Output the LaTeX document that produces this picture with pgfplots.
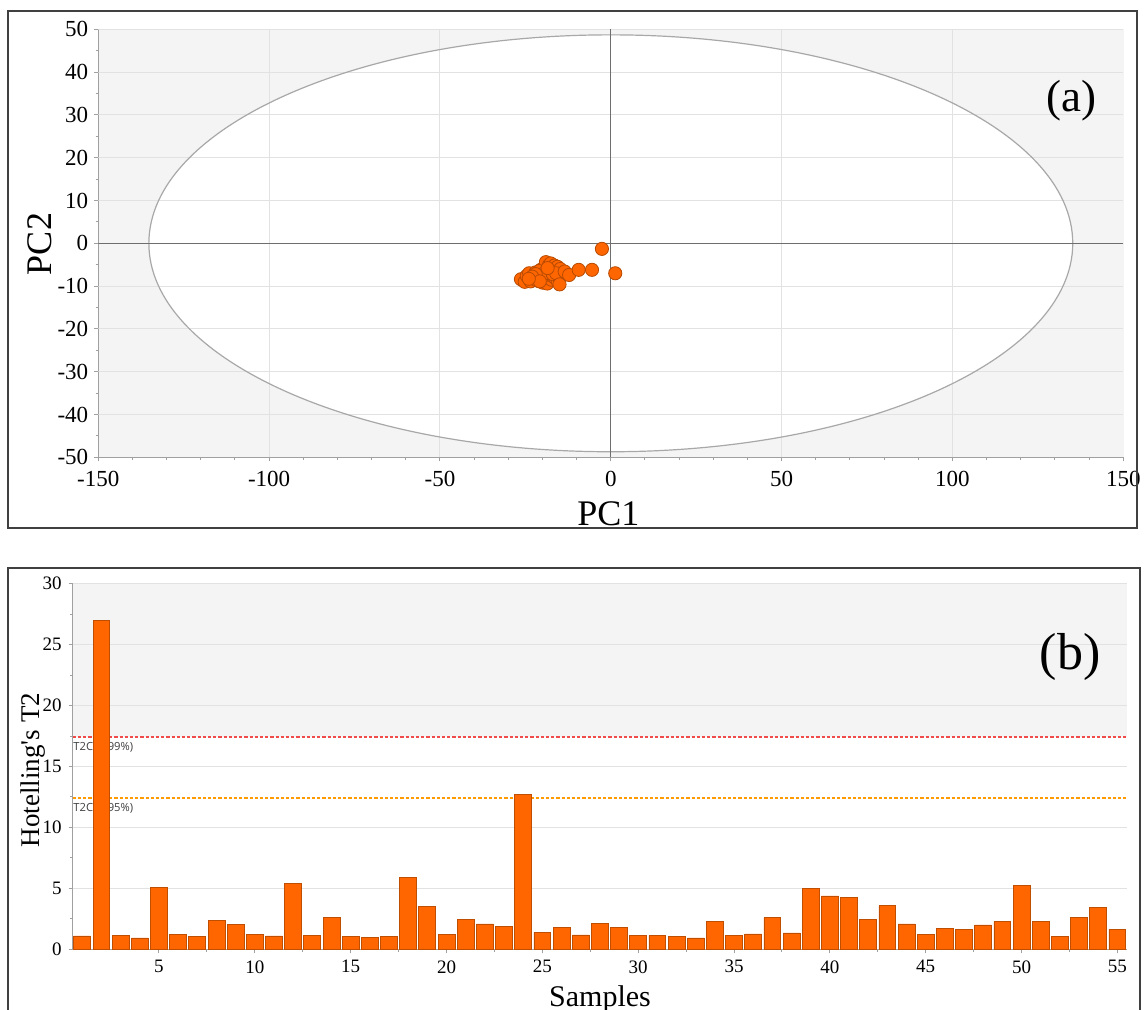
\documentclass[border=0pt]{standalone}
\usepackage{fontspec}
\setmainfont{Liberation Serif}
\newfontfamily\uisans{Open Sans}
\usepackage{pgfplots}
\pgfplotsset{compat=1.18}
\definecolor{bggray}{HTML}{F4F4F4}
\definecolor{gridgray}{HTML}{E2E2E2}
\definecolor{axgray}{HTML}{A0A0A0}
\definecolor{zerogray}{HTML}{6E6E6E}
\definecolor{ellgray}{HTML}{A8A8A8}
\definecolor{ptorange}{HTML}{FF6600}
\definecolor{ptedge}{HTML}{B84A00}
\definecolor{barorange}{HTML}{FF6600}
\definecolor{baredge}{HTML}{C04E00}
\definecolor{framecol}{HTML}{404040}
\definecolor{critred}{HTML}{F04A4A}
\definecolor{critorange}{HTML}{FF9A00}
\begin{document}
\begin{tikzpicture}
\useasboundingbox (0,0) rectangle (572pt,504.5pt);
\fill[white] (0,0) rectangle (572pt,504.5pt);
% ---------------- (a) score plot ----------------
\begin{axis}[
  at={(49.15pt,275.85pt)}, anchor=south west,
  scale only axis, width=512.5pt, height=214pt,
  xmin=-150, xmax=150, ymin=-50, ymax=50,
  xtick={-150,-100,...,150}, ytick={-50,-40,...,50},
  minor x tick num=4, minor y tick num=1,
  axis x line*=bottom, axis y line*=left,
  axis line style={-, draw=axgray, line width=0.6pt},
  tick align=outside, major tick length=2pt, minor tick length=1.3pt,
  every tick/.style={axgray, line width=0.5pt},
  ticklabel style={font=\fontsize{11.5}{13}\selectfont},
  xticklabel style={yshift=-1.5pt},
  yticklabel style={xshift=0.5pt},
  /pgf/number format/assume math mode=true,
  axis background/.style={fill=bggray},
]
\fill[white] (axis cs:0,0) ellipse [x radius=135.2, y radius=48.7];
\draw[gridgray, line width=0.5pt] (axis cs:-100,-50) -- (axis cs:-100,50);
\draw[gridgray, line width=0.5pt] (axis cs:-50,-50) -- (axis cs:-50,50);
\draw[gridgray, line width=0.5pt] (axis cs:50,-50) -- (axis cs:50,50);
\draw[gridgray, line width=0.5pt] (axis cs:100,-50) -- (axis cs:100,50);
\draw[gridgray, line width=0.5pt] (axis cs:150,-50) -- (axis cs:150,50);
\draw[gridgray, line width=0.5pt] (axis cs:-150,-40) -- (axis cs:150,-40);
\draw[gridgray, line width=0.5pt] (axis cs:-150,-30) -- (axis cs:150,-30);
\draw[gridgray, line width=0.5pt] (axis cs:-150,-20) -- (axis cs:150,-20);
\draw[gridgray, line width=0.5pt] (axis cs:-150,-10) -- (axis cs:150,-10);
\draw[gridgray, line width=0.5pt] (axis cs:-150,10) -- (axis cs:150,10);
\draw[gridgray, line width=0.5pt] (axis cs:-150,20) -- (axis cs:150,20);
\draw[gridgray, line width=0.5pt] (axis cs:-150,30) -- (axis cs:150,30);
\draw[gridgray, line width=0.5pt] (axis cs:-150,40) -- (axis cs:150,40);
\draw[gridgray, line width=0.5pt] (axis cs:-150,50) -- (axis cs:150,50);
\draw[ellgray, line width=0.6pt] (axis cs:0,0) ellipse [x radius=135.2, y radius=48.7];
\draw[zerogray, line width=0.6pt] (axis cs:0,-50) -- (axis cs:0,50);
\draw[zerogray, line width=0.6pt] (axis cs:-150,0) -- (axis cs:150,0);
\addplot[only marks, mark=*, mark size=3.3pt,
  mark options={fill=ptorange, draw=ptedge, line width=0.4pt}] table {
x y
-26.3 -8.4
-25.2 -9.0
-24.6 -7.6
-23.9 -7.0
-23.5 -8.9
-22.8 -8.2
-22.4 -7.6
-22.0 -6.8
-21.6 -8.7
-21.2 -7.9
-20.8 -7.1
-20.5 -6.2
-20.3 -8.4
-19.9 -9.2
-19.7 -7.5
-19.4 -5.6
-19.2 -6.6
-19.0 -4.4
-18.8 -8.0
-18.6 -9.4
-18.3 -7.2
-18.1 -5.1
-17.9 -6.4
-17.6 -4.7
-17.4 -8.5
-17.2 -7.6
-17.0 -5.8
-16.8 -6.9
-16.5 -5.2
-16.3 -8.1
-16.0 -6.3
-15.8 -7.4
-15.6 -5.5
-15.5 -8.9
-15.2 -6.8
-14.8 -6.0
-14.6 -7.3
-20.0 -7.8
-21.0 -6.5
-18.0 -7.0
-19.5 -7.0
-17.0 -7.2
-22.0 -7.2
-23.0 -7.8
-16.0 -7.0
-18.5 -5.8
-20.8 -8.9
-24.0 -8.3
-13.5 -6.6
-15.0 -9.6
-12.2 -7.4
-9.4 -6.2
-5.5 -6.2
-2.6 -1.3
1.3 -7.0
};
\end{axis}
% ---------------- (b) Hotelling T2 ----------------
\begin{axis}[
  at={(36.35pt,29.85pt)}, anchor=south west,
  scale only axis, width=527.15pt, height=182.8pt,
  xmin=0.5, xmax=55.5, ymin=0, ymax=30,
  xtick={5,10,...,55}, ytick={0,5,...,30},
  minor x tick num=1, minor y tick num=1,
  axis x line*=bottom, axis y line*=left,
  axis line style={-, draw=axgray, line width=0.6pt},
  tick align=outside, major tick length=2pt, minor tick length=1.3pt,
  every tick/.style={axgray, line width=0.5pt},
  ticklabel style={font=\fontsize{9.5}{11}\selectfont},
  /pgf/number format/assume math mode=true,
]
\fill[bggray] (axis cs:0.5,17.42) rectangle (axis cs:55.5,30);
\draw[gridgray, line width=0.5pt] (axis cs:0.5,5) -- (axis cs:55.5,5);
\draw[gridgray, line width=0.5pt] (axis cs:0.5,10) -- (axis cs:55.5,10);
\draw[gridgray, line width=0.5pt] (axis cs:0.5,15) -- (axis cs:55.5,15);
\draw[gridgray, line width=0.5pt] (axis cs:0.5,20) -- (axis cs:55.5,20);
\draw[gridgray, line width=0.5pt] (axis cs:0.5,25) -- (axis cs:55.5,25);
\draw[gridgray, line width=0.5pt] (axis cs:0.5,30) -- (axis cs:55.5,30);
\draw[critred, line width=0.6pt, dash pattern=on 1.6pt off 1pt] (axis cs:0.5,17.42) -- (axis cs:55.5,17.42);
\draw[critorange, line width=0.6pt, dash pattern=on 1.6pt off 1pt] (axis cs:0.5,12.41) -- (axis cs:55.5,12.41);
\node[anchor=north west, inner sep=0pt, text=black!75, font=\uisans\fontsize{5.6}{6}\selectfont] at (axis cs:0.52,17.05) {T2Crit(99\%)};
\node[anchor=north west, inner sep=0pt, text=black!75, font=\uisans\fontsize{5.6}{6}\selectfont] at (axis cs:0.52,12.04) {T2Crit(95\%)};
\addplot[ybar, bar width=0.88, fill=barorange, draw=baredge, line width=0.4pt] coordinates {
(1,1.10) (2,27.0) (3,1.12) (4,0.93) (5,5.07) (6,1.20) (7,1.07) (8,2.36) (9,2.05) (10,1.23)
(11,1.10) (12,5.40) (13,1.12) (14,2.63) (15,1.07) (16,0.99) (17,1.04) (18,5.89) (19,3.51) (20,1.20)
(21,2.44) (22,2.08) (23,1.86) (24,12.71) (25,1.42) (26,1.78) (27,1.18) (28,2.14) (29,1.78) (30,1.15)
(31,1.15) (32,1.07) (33,0.93) (34,2.25) (35,1.12) (36,1.26) (37,2.60) (38,1.34) (39,5.01) (40,4.38)
(41,4.22) (42,2.44) (43,3.59) (44,2.08) (45,1.20) (46,1.70) (47,1.64) (48,2.00) (49,2.30) (50,5.23)
(51,2.27) (52,1.04) (53,2.63) (54,3.42) (55,1.64)
};
\end{axis}
% frames and labels
\draw[framecol, line width=1pt] (4pt,240.5pt) rectangle (568.5pt,499pt);
\draw[framecol, line width=1pt] (4pt,-10pt) rectangle (570pt,220.5pt);
\node[anchor=base, inner sep=0pt, font=\fontsize{18}{20}\selectfont] at (304.2pt,241.9pt) {PC1};
\node[anchor=base, rotate=90, inner sep=0pt, font=\fontsize{18}{20}\selectfont] at (25.85pt,382.5pt) {PC2};
\node[font=\fontsize{22.5}{26}\selectfont] at (535.9pt,454.2pt) {(a)};
\node[font=\fontsize{26}{30}\selectfont] at (535pt,176pt) {(b)};
\node[anchor=base, rotate=90, inner sep=0pt, font=\fontsize{13.5}{15}\selectfont] at (19.8pt,119.5pt) {Hotelling\textquotesingle s T2};
\node[anchor=base, inner sep=0pt, font=\fontsize{15}{17}\selectfont] at (300pt,1.5pt) {Samples};
\end{tikzpicture}
\end{document}
